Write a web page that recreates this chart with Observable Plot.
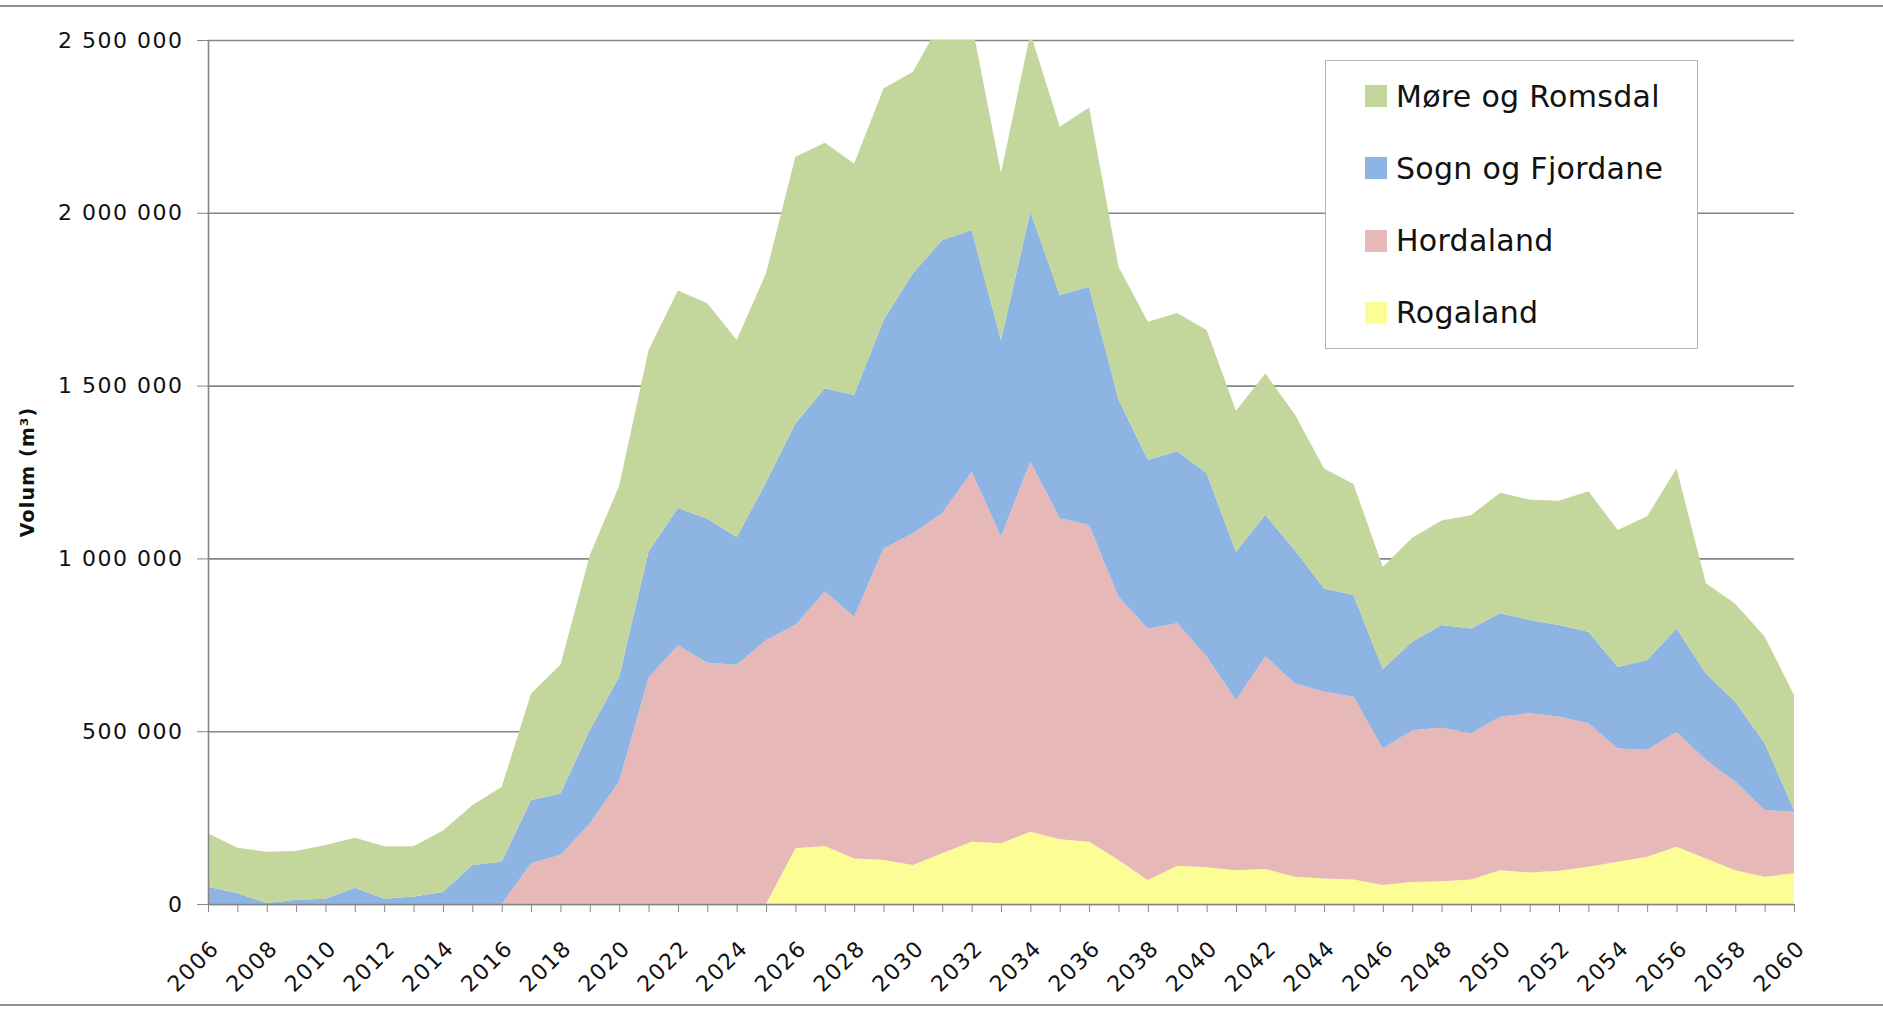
<!DOCTYPE html>
<html><head><meta charset="utf-8">
<script src="https://cdn.jsdelivr.net/npm/d3@7"></script>
<script src="https://cdn.jsdelivr.net/npm/@observablehq/plot@0.6"></script>
<style>
html,body{margin:0;padding:0;background:#fff;width:1883px;height:1009px;overflow:hidden;position:relative;font-family:"DejaVu Sans",sans-serif;}
#chart{position:absolute;left:0;top:0;}
#chart svg text{letter-spacing:1.5px;}
.frameline{position:absolute;left:0;width:1883px;height:0;border-top:2px solid #8e8e8e;}
#ytitle{position:absolute;left:27px;top:472px;transform:translate(-50%,-50%) rotate(-90deg);font-weight:bold;font-size:19px;white-space:nowrap;color:#111;letter-spacing:1.2px;}
#legend{position:absolute;left:1325px;top:60px;width:373px;height:289px;border:1.5px solid #b4b4b4;background:#fff;box-sizing:border-box;}
.item{position:absolute;left:39px;height:40px;display:flex;align-items:center;font-size:30px;color:#111;white-space:nowrap;letter-spacing:0.3px;}
.sw{width:22px;height:22px;margin-right:9px;}
</style></head><body>
<div class="frameline" style="top:5px"></div>
<div id="chart"></div>
<div id="ytitle">Volum (m³)</div>
<div id="legend"></div>
<div class="frameline" style="top:1004px"></div>
<script>
const years = [2006,2007,2008,2009,2010,2011,2012,2013,2014,2015,2016,2017,2018,2019,2020,2021,2022,2023,2024,2025,2026,2027,2028,2029,2030,2031,2032,2033,2034,2035,2036,2037,2038,2039,2040,2041,2042,2043,2044,2045,2046,2047,2048,2049,2050,2051,2052,2053,2054,2055,2056,2057,2058,2059,2060];
const xLabelYears = [2006,2008,2010,2012,2014,2016,2018,2020,2022,2024,2026,2028,2030,2032,2034,2036,2038,2040,2042,2044,2046,2048,2050,2052,2054,2056,2058,2060];
const yTicks = [0, 500000, 1000000, 1500000, 2000000, 2500000];

// stacking order: bottom to top
const regions = ["Rogaland", "Hordaland", "Sogn og Fjordane", "Møre og Romsdal"];
const colors = ["#fdfd96", "#e6b9b8", "#8eb4e3", "#c3d69b"];

const rogaland = [0,0,0,0,0,0,0,0,0,0,0,0,0,0,0,0,0,0,0,0,
  161000,168000,132000,127000,113000,147000,180000,176000,209000,187000,
  180000,127000,69000,111000,106000,98000,101000,79000,74000,71000,
  55000,64000,66000,71000,98000,91000,96000,108000,122000,137000,
  166000,132000,98000,79000,89000];
const hordaland = [0,0,0,0,0,0,0,0,0,0,0,
  118000,142000,233000,355000,655000,749000,698000,692000,764000,646000,
  736000,699000,902000,960000,984000,1071000,887000,1071000,929000,917000,
  762000,728000,701000,610000,492000,615000,560000,540000,529000,395000,
  439000,444000,423000,444000,461000,446000,415000,328000,309000,332000,
  285000,256000,193000,178000];
const sognOgFjordane = [50000,31000,3000,12000,15000,47000,15000,22000,35000,113000,
  122000,183000,178000,270000,303000,365000,397000,417000,370000,456000,
  583000,588000,642000,661000,752000,790000,699000,569000,723000,646000,
  689000,571000,488000,498000,531000,429000,410000,385000,299000,294000,
  230000,256000,297000,303000,299000,270000,265000,265000,236000,260000,
  299000,250000,231000,193000,5000];
const moreOgRomsdal = [155000,132000,148000,141000,156000,145000,152000,145000,178000,173000,
  217000,308000,372000,507000,552000,583000,629000,623000,570000,605000,
  772000,711000,670000,670000,583000,639000,600000,483000,517000,487000,
  519000,384000,400000,400000,414000,408000,409000,393000,347000,321000,
  295000,301000,303000,328000,349000,348000,360000,406000,396000,416000,
  463000,261000,284000,309000,333000];

const seriesByRegion = {
  "Rogaland": rogaland,
  "Hordaland": hordaland,
  "Sogn og Fjordane": sognOgFjordane,
  "Møre og Romsdal": moreOgRomsdal
};
const table = regions.flatMap(r => years.map((yr, i) => ({year: yr, region: r, value: seriesByRegion[r][i]})));

const gray = "#868686";
const fmt = d => d3.format(",")(d).replace(/,/g, " ");

const chart = Plot.plot({
  width: 1883,
  height: 1009,
  marginLeft: 208,
  marginRight: 89,
  marginTop: 40,
  marginBottom: 105,
  style: {fontFamily: "'DejaVu Sans', sans-serif", background: "transparent", color: "#111"},
  x: {domain: [2006, 2060], label: null},
  y: {domain: [0, 2500000], label: null},
  color: {domain: regions, range: colors},
  marks: [
    Plot.gridY(yTicks, {stroke: gray, strokeOpacity: 1, strokeWidth: 1.6}),
    Plot.areaY(table, {x: "year", y: "value", fill: "region", order: regions, clip: true}),
    Plot.ruleX([2006], {stroke: gray, strokeWidth: 1.6}),
    Plot.ruleY([0], {stroke: gray, strokeWidth: 1.6}),
    Plot.axisY(yTicks, {tickSize: 11, tickPadding: 14, tickFormat: fmt, fontSize: 22, stroke: gray, label: null}),
    Plot.axisX(years, {tickSize: 8, tickFormat: () => "", stroke: gray, label: null}),
    Plot.text(xLabelYears, {x: d => d, y: () => 0, text: d => String(d), rotate: -45, textAnchor: "end", dx: 7, dy: 40, fontSize: 22, fill: "#111"})
  ]
});
document.getElementById("chart").appendChild(chart);

// legend (top series first)
const legend = document.getElementById("legend");
regions.slice().reverse().forEach((r, i) => {
  const item = document.createElement("div");
  item.className = "item";
  item.style.top = (15 + i * 72.3) + "px";
  const sw = document.createElement("div");
  sw.className = "sw";
  sw.style.background = colors[regions.indexOf(r)];
  const t = document.createElement("span");
  t.textContent = r;
  item.appendChild(sw);
  item.appendChild(t);
  legend.appendChild(item);
});
</script>
</body></html>
